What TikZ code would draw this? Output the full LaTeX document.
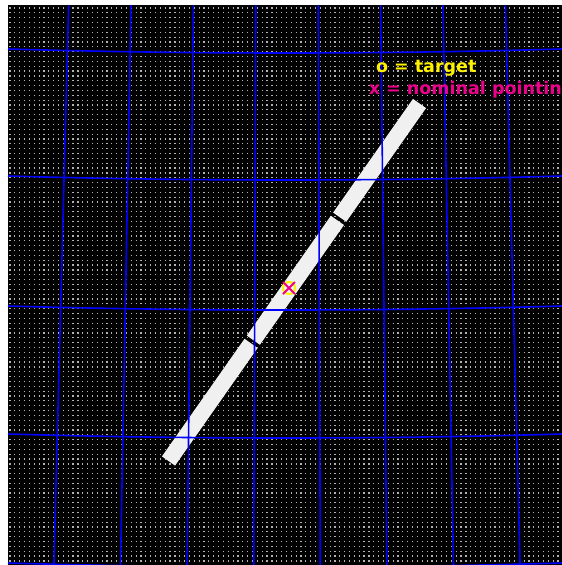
\documentclass[tikz,border=0pt]{standalone}
\usepackage{fontspec}
\setmainfont{DejaVu Sans}
\usetikzlibrary{calc}

\begin{document}
\begin{tikzpicture}[
  x=1pt, y=-1pt,
  field/.style  = {fill=black},
  dotrow/.style = {draw=white!70!black, line width=1.2pt, dash pattern=on 1.2pt off 3.65pt},
  gridln/.style = {draw=blue, line width=1.6pt},
  slit/.style   = {draw=white!94!black, line width=16pt, line cap=butt},
  marker/.style = {line width=2pt},
  legend/.style = {anchor=base west, inner sep=0pt, font=\bfseries\fontsize{17.5}{20}\selectfont},
]

%── Frame ─────────────────────────────────────────────────────────────────────
\useasboundingbox (0,0) rectangle (562,565);
\clip (0,0) rectangle (562,565);
\fill[field] (8,5) rectangle (562,565);

%── Dotted sky field ──────────────────────────────────────────────────────────
\foreach \row in {0,...,114}
  \draw[dotrow] (9.4,{8+4.85*\row}) -- (562,{8+4.85*\row});

%── Slit (three segments) ─────────────────────────────────────────────────────
\coordinate (slitlo) at (168.5,461);
\coordinate (slithi) at (419.5,103.5);
\draw[slit] (slitlo)                   -- ($(slitlo)!0.329!(slithi)$);
\draw[slit] ($(slitlo)!0.338!(slithi)$) -- ($(slitlo)!0.673!(slithi)$);
\draw[slit] ($(slitlo)!0.682!(slithi)$) -- (slithi);

%── Coordinate grid ───────────────────────────────────────────────────────────
% RA lines fan out towards the bottom
\foreach \i in {1,...,8}
  \draw[gridln] ({287+(\i-4.5)*62.4},5) -- ({287+(\i-4.5)*66.6},565);
% Dec lines bow down in the middle
\foreach \yy in {49,176,306,434,563}
  \draw[gridln] (8,\yy) .. controls (192.7,\yy+5.33) and (377.3,\yy+5.33) .. (562,\yy);

%── Target and pointing marks ─────────────────────────────────────────────────
\coordinate (aim) at (289,288);
\draw[marker, yellow]  (aim) circle [radius=6pt];
\draw[marker, magenta] ($(aim)+(-6,-6)$) -- ($(aim)+(6,6)$)
                       ($(aim)+(-6,6)$)  -- ($(aim)+(6,-6)$);

%── Legend ────────────────────────────────────────────────────────────────────
\node[legend, text=yellow]  (tgtkey) at (375.8,72)   {o = target};
\node[legend, text=magenta] (aimkey) at (368.6,94.7) {x = nominal pointing};

\end{tikzpicture}
\end{document}
